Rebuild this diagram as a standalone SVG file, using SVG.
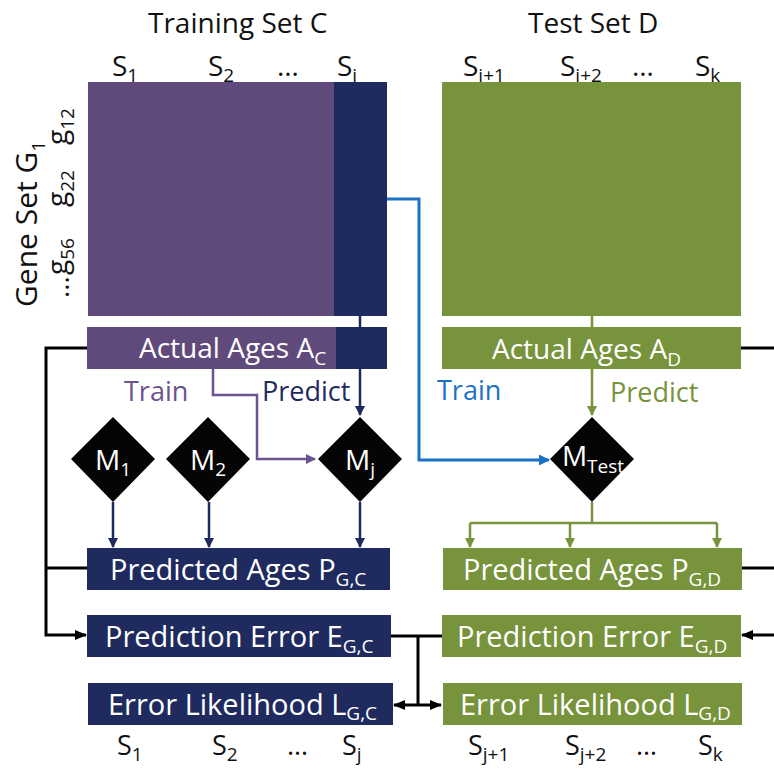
<svg xmlns="http://www.w3.org/2000/svg" width="774" height="770" viewBox="0 0 774 770">
<style>
text{font-family:"Open Sans","Liberation Sans",sans-serif;}
.t{font-size:28px;fill:#111;}
.s{font-size:27px;fill:#111;}
.w{font-size:28px;fill:#fff;}
.wb{font-size:29px;fill:#fff;}
.sub{font-size:19px;}
.purple{fill:#604a7b;}
.navy{fill:#1f2b5e;}
.green{fill:#77933c;}
.dia{fill:#050505;}
.cb{fill:none;stroke:#000;stroke-width:3;}
.cn{fill:none;stroke:#1f2b5e;stroke-width:2.5;}
.cg{fill:none;stroke:#77933c;stroke-width:2.5;}
.cp{fill:none;stroke:#6b5290;stroke-width:2.5;}
.cl{fill:none;stroke:#1a72c6;stroke-width:3;}
</style>
<defs>
<marker id="ab" markerUnits="userSpaceOnUse" markerWidth="12" markerHeight="12" refX="11" refY="6" orient="auto-start-reverse"><path d="M0,1 L12,6 L0,11 Z" fill="#000"/></marker>
<marker id="an" markerUnits="userSpaceOnUse" markerWidth="10" markerHeight="10" refX="9" refY="5" orient="auto"><path d="M0,0 L10,5 L0,10 Z" fill="#1f2b5e"/></marker>
<marker id="ag" markerUnits="userSpaceOnUse" markerWidth="10" markerHeight="10" refX="9" refY="5" orient="auto"><path d="M0,0 L10,5 L0,10 Z" fill="#77933c"/></marker>
<marker id="ap" markerUnits="userSpaceOnUse" markerWidth="10" markerHeight="10" refX="9" refY="5" orient="auto"><path d="M0,0 L10,5 L0,10 Z" fill="#6b5290"/></marker>
<marker id="al" markerUnits="userSpaceOnUse" markerWidth="11" markerHeight="11" refX="10" refY="5.5" orient="auto"><path d="M0,0 L11,5.5 L0,11 Z" fill="#1a72c6"/></marker>
</defs>
<rect width="774" height="770" fill="#fff"/>

<g id="labels">
<text class="t" x="148" y="33">Training Set C</text>
<text class="t" x="528" y="33">Test Set D</text>
<text class="t" x="112" y="76">S<tspan class="sub" dy="6">1</tspan></text>
<text class="t" x="208" y="76">S<tspan class="sub" dy="6">2</tspan></text>
<text class="t" x="277" y="76">…</text>
<text class="t" x="337" y="76">S<tspan class="sub" dy="6">j</tspan></text>
<text class="t" x="463" y="76">S<tspan class="sub" dy="6">j+1</tspan></text>
<text class="t" x="560" y="76">S<tspan class="sub" dy="6">j+2</tspan></text>
<text class="t" x="632" y="76">…</text>
<text class="t" x="695" y="76">S<tspan class="sub" dy="6">k</tspan></text>
<text class="s" x="117" y="755">S<tspan class="sub" dy="6">1</tspan></text>
<text class="s" x="212" y="755">S<tspan class="sub" dy="6">2</tspan></text>
<text class="s" x="287" y="755">…</text>
<text class="s" x="342" y="755">S<tspan class="sub" dy="6">j</tspan></text>
<text class="s" x="468" y="755">S<tspan class="sub" dy="6">j+1</tspan></text>
<text class="s" x="565" y="755">S<tspan class="sub" dy="6">j+2</tspan></text>
<text class="s" x="636" y="755">…</text>
<text class="s" x="698" y="755">S<tspan class="sub" dy="6">k</tspan></text>
<text class="t" style="font-size:30px" transform="translate(37,307) rotate(-90)">Gene Set G<tspan class="sub" dy="8">1</tspan></text>
<text class="t" transform="translate(67,145) rotate(-90)">g<tspan class="sub" dy="7">12</tspan></text>
<text class="t" transform="translate(67,207) rotate(-90)">g<tspan class="sub" dy="7">22</tspan></text>
<text class="t" transform="translate(67,275) rotate(-90)">g<tspan class="sub" dy="7">56</tspan></text>
<text class="t" transform="translate(69,298) rotate(-90)">…</text>
<text x="124" y="401" style="font-size:27px;fill:#6b5290">Train</text>
<text x="262" y="401" style="font-size:27px;fill:#1f2b5e">Predict</text>
<text x="437" y="400" style="font-size:27px;fill:#1a72c6">Train</text>
<text x="610" y="402" style="font-size:27px;fill:#77933c">Predict</text>
</g>

<g id="connectors">
<path class="cn" d="M360,316 V327 M360,369 V415" marker-end="url(#an)"/>
<path class="cg" d="M592,316 V327 M592,369 V415" marker-end="url(#ag)"/>
<path class="cp" d="M213,369 V395 H257 V459 H315" marker-end="url(#ap)"/>
<path class="cl" d="M387,199 H419 V460 H549" marker-end="url(#al)"/>
<path class="cn" d="M113,502 V547" marker-end="url(#an)"/>
<path class="cn" d="M209,502 V547" marker-end="url(#an)"/>
<path class="cn" d="M360,502 V547" marker-end="url(#an)"/>
<path class="cg" d="M592,502 V523 M470,523 H717"/>
<path class="cg" d="M470,523 V547" marker-end="url(#ag)"/>
<path class="cg" d="M570,523 V547" marker-end="url(#ag)"/>
<path class="cg" d="M717,523 V547" marker-end="url(#ag)"/>
<path class="cb" d="M87,348 H46 V635 H86" marker-end="url(#ab)"/>
<path class="cb" d="M87,568 H46"/>
<path class="cb" d="M740,348 H774"/>
<path class="cb" d="M742,568 H774"/>
<path class="cb" d="M774,635 H742" marker-end="url(#ab)"/>
<path class="cb" d="M391,636 H442 M418,636 V705"/>
<path class="cb" d="M394,705 H441" marker-start="url(#ab)" marker-end="url(#ab)"/>
</g>

<g id="training-matrix">
<rect class="purple" x="88" y="82" width="246" height="234"/>
<rect class="navy" x="334" y="82" width="53" height="234"/>
</g>
<g id="test-matrix">
<rect class="green" x="442" y="82" width="299" height="234"/>
</g>
<g id="actual-ages-c">
<rect class="purple" x="87" y="327" width="300" height="42"/>
<rect class="navy" x="336" y="327" width="51" height="42"/>
<text class="w" x="139" y="358">Actual Ages A<tspan class="sub" dy="7">C</tspan></text>
</g>
<g id="actual-ages-d">
<rect class="green" x="442" y="327" width="299" height="42"/>
<text class="w" x="492" y="359">Actual Ages A<tspan class="sub" dy="7">D</tspan></text>
</g>
<g id="m1">
<path class="dia" d="M113,417 L155,459 L113,502 L71,459 Z"/>
<text class="w" x="113" y="470" text-anchor="middle">M<tspan class="sub" dy="6">1</tspan></text>
</g>
<g id="m2">
<path class="dia" d="M208,417 L250,459 L208,502 L166,459 Z"/>
<text class="w" x="208" y="470" text-anchor="middle">M<tspan class="sub" dy="6">2</tspan></text>
</g>
<g id="mj">
<path class="dia" d="M360,417 L402,459 L360,502 L318,459 Z"/>
<text class="w" x="360" y="470" text-anchor="middle">M<tspan class="sub" dy="6">j</tspan></text>
</g>
<g id="mtest">
<path class="dia" d="M592,417 L634,459 L592,502 L550,459 Z"/>
<text class="w" x="593" y="466" text-anchor="middle">M<tspan class="sub" dy="7">Test</tspan></text>
</g>
<g id="pred-ages-c">
<rect class="navy" x="87" y="548" width="303" height="42"/>
<text class="wb" x="110" y="580">Predicted Ages P<tspan class="sub" dy="6">G,C</tspan></text>
</g>
<g id="pred-error-c">
<rect class="navy" x="87" y="615" width="304" height="42"/>
<text class="wb" x="105" y="647">Prediction Error E<tspan class="sub" dy="6">G,C</tspan></text>
</g>
<g id="err-like-c">
<rect class="navy" x="88" y="683" width="305" height="42"/>
<text class="wb" x="108" y="715">Error Likelihood L<tspan class="sub" dy="5">G,C</tspan></text>
</g>
<g id="pred-ages-d">
<rect class="green" x="443" y="548" width="299" height="42"/>
<text class="wb" x="463" y="580">Predicted Ages P<tspan class="sub" dy="6">G,D</tspan></text>
</g>
<g id="pred-error-d">
<rect class="green" x="442" y="615" width="299" height="42"/>
<text class="wb" x="457" y="647">Prediction Error E<tspan class="sub" dy="6">G,D</tspan></text>
</g>
<g id="err-like-d">
<rect class="green" x="443" y="683" width="299" height="42"/>
<text class="wb" x="460" y="715">Error Likelihood L<tspan class="sub" dy="5">G,D</tspan></text>
</g>
</svg>
